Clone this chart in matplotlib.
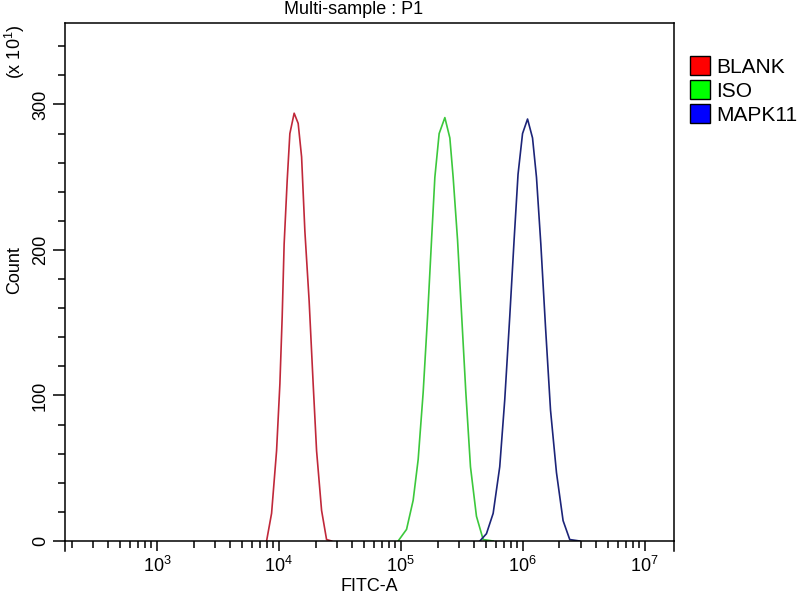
import matplotlib
matplotlib.use("Agg")
import matplotlib.pyplot as plt
from matplotlib.patches import Patch
from matplotlib.ticker import LogLocator, MultipleLocator, NullFormatter, LogFormatterSciNotation

plt.rcParams["font.family"] = ["Liberation Sans", "DejaVu Sans"]
plt.rcParams["mathtext.fontset"] = "custom"
plt.rcParams["mathtext.rm"] = "Liberation Sans"
plt.rcParams["mathtext.it"] = "Liberation Sans"

# FITC-A intensity and counts (x10^1)
blank_x = [7925, 8710, 9570, 10190, 10640, 11040, 11700, 12300, 13340,
           14390, 15350, 16330, 17700, 19100, 20370, 22390, 24600, 27040]
blank_y = [0, 19, 62, 108, 154, 204, 248, 280, 294,
           287, 264, 213, 165, 108, 62, 21, 1, 0]

iso_x = [95060, 111400, 126200, 138700, 152400, 165600, 178600, 190100, 206100,
         229600, 252300, 268500, 291700, 314800, 341200, 372400, 416900, 473200, 571500]
iso_y = [0, 8, 28, 56, 102, 154, 207, 250, 280,
         291, 277, 250, 207, 156, 102, 51, 17, 1, 0]

mapk_x = [444600, 503500, 571500, 647100, 711200, 781600, 848900, 914200, 995400,
          1094000, 1202000, 1295000, 1406000, 1536000, 1688000, 1889000, 2140000,
          2427000, 2931000]
mapk_y = [0, 5, 19, 51, 97, 154, 207, 252, 280,
          290, 277, 250, 204, 147, 90, 47, 14, 1, 0]

labels = ["BLANK", "ISO", "MAPK11"]
line_colors = ["#c0283a", "#3cc83c", "#1c2478"]
key_colors = ["#ff0000", "#00ff00", "#0000ff"]

fig = plt.figure(figsize=(8, 6), dpi=100)
ax = fig.add_axes([65 / 800, 59 / 600, 609 / 800, 518 / 600])

for xs, ys, c in zip([blank_x, iso_x, mapk_x], [blank_y, iso_y, mapk_y], line_colors):
    ax.plot(xs, ys, color=c, lw=1.2)

ax.set_xscale("log")
ax.set_xlim(10 ** 2.246, 10 ** 7.24)
ax.set_ylim(0, 356)

ax.xaxis.set_major_locator(LogLocator(base=10, numticks=10))
ax.xaxis.set_major_formatter(LogFormatterSciNotation())
ax.xaxis.set_minor_locator(LogLocator(base=10, subs=range(2, 10), numticks=20))
ax.xaxis.set_minor_formatter(NullFormatter())
ax.yaxis.set_major_locator(MultipleLocator(100))
ax.yaxis.set_minor_locator(MultipleLocator(20))

for s in ax.spines.values():
    s.set_linewidth(1.1)
ax.tick_params(axis="x", which="major", length=7.5, width=1.1, labelsize=13, pad=3)
ax.tick_params(axis="x", which="minor", length=5, width=1.1)
ax.tick_params(axis="y", which="major", length=8.5, width=1.1, labelsize=13, pad=3)
ax.tick_params(axis="y", which="minor", length=5, width=1.1)
for lab in ax.get_yticklabels():
    lab.set_rotation(90)
    lab.set_va("center")

# spine end ticks below the x axis
for xa in (0, 1):
    ax.plot([xa, xa], [0, -0.02], transform=ax.transAxes, color="black",
            lw=1.1, clip_on=False)

ax.set_xlabel("FITC-A", fontsize=13, labelpad=2)
fig.text(354 / 800, 1 - 10 / 600, "Multi-sample : P1", fontsize=13,
         ha="center", va="center")
fig.text(15 / 800, 1 - 270 / 600, "Count", fontsize=13, rotation=90,
         ha="center", va="center")
fig.text(15 / 800, 1 - 52 / 600, r"(x 10$^1$)", fontsize=13, rotation=90,
         ha="center", va="center")

handles = [Patch(facecolor=k, edgecolor="black", lw=1.0) for k in key_colors]
fig.legend(handles, labels, loc="upper left", bbox_to_anchor=(690 / 800, 1 - 56 / 600),
           frameon=False, fontsize=15, handlelength=0.95, handleheight=1.05,
           handletextpad=0.3, labelspacing=0.15, borderpad=0, borderaxespad=0)

fig.savefig("out.png", dpi=100)
